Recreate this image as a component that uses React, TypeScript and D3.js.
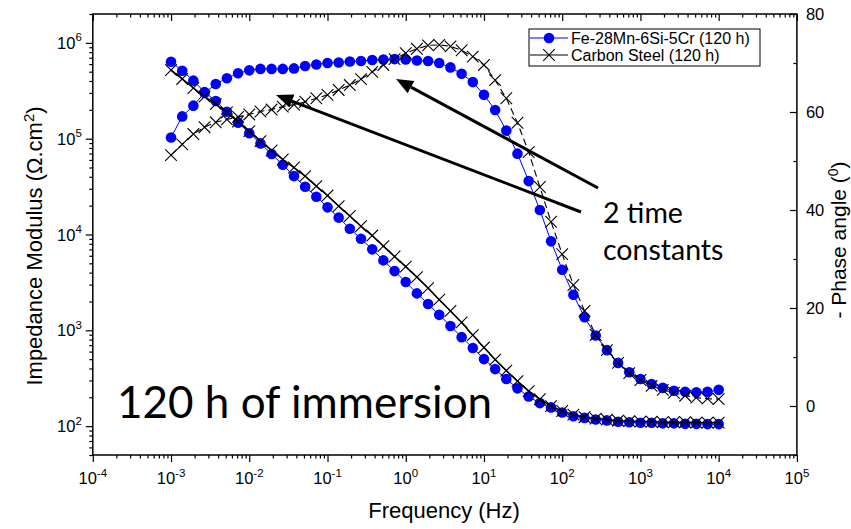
import React, { useEffect, useRef } from 'react';
import * as d3 from 'd3';

// frequency points (Hz), 7 per decade
const freqHz = [
  0.001, 0.00139, 0.00193, 0.00268, 0.00373, 0.00518, 0.0072,
  0.01, 0.0139, 0.0193, 0.0268, 0.0373, 0.0518, 0.072,
  0.1, 0.139, 0.193, 0.268, 0.373, 0.518, 0.72,
  1, 1.39, 1.93, 2.68, 3.73, 5.18, 7.2,
  10, 13.9, 19.3, 26.8, 37.3, 51.8, 72,
  100, 139, 193, 268, 373, 518, 720,
  1000, 1390, 1930, 2680, 3730, 5180, 7200,
  10000,
];

// Fe-28Mn-6Si-5Cr |Z| (ohm.cm2) and -phase (deg)
const feModulus = [
  635000, 512000, 403000, 307000, 247000, 191000, 147000,
  114000, 89300, 69100, 53500, 40700, 31500, 24800,
  19200, 15000, 11500, 9020, 7000, 5370, 4150,
  3190, 2430, 1880, 1450, 1110, 849, 653,
  501, 394, 310, 248, 204, 174, 157,
  139, 127, 122, 117.5, 114.8, 111, 110,
  108.4, 108.4, 106.9, 106.9, 105.7, 105.7, 105,
  105,
];
const fePhase = [
  54.8, 59.1, 61.3, 63.9, 65.7, 66.9, 67.9,
  68.5, 68.8, 68.8, 68.8, 68.9, 69.4, 69.7,
  70.0, 70.1, 70.3, 70.4, 70.6, 70.7, 70.8,
  70.7, 70.5, 70.4, 70.0, 69.1, 67.8, 66.1,
  63.5, 60.4, 56.2, 51.5, 45.9, 40.0, 33.6,
  27.8, 22.7, 18.1, 14.4, 11.4, 8.8, 6.9,
  5.5, 4.5, 3.7, 3.1, 2.9, 2.8, 2.9,
  3.3,
];

// Carbon steel |Z| and -phase
const csModulus = [
  520000, 420000, 338000, 275000, 230000, 188000, 151000,
  120000, 94400, 75200, 60600, 50000, 40700, 32000,
  25500, 19800, 15600, 12200, 9750, 7570, 5890,
  4620, 3590, 2760, 2090, 1590, 1210, 891,
  661, 495, 380, 295, 232, 191, 162,
  144, 132, 124, 120, 117, 114, 113,
  111.5, 111.5, 110, 110, 110, 108.9, 108.9,
  108.9,
];
const csPhase = [
  51.2, 53.4, 55.5, 56.9, 57.9, 58.5, 59.0,
  59.5, 60.1, 60.5, 61.1, 61.5, 62.1, 62.8,
  63.5, 64.5, 65.5, 66.7, 68.2, 69.6, 70.8,
  72.0, 72.9, 73.6, 73.7, 73.4, 72.6, 71.3,
  69.6, 66.5, 62.8, 57.8, 51.8, 44.7, 37.6,
  31.0, 24.7, 19.4, 14.5, 11.4, 8.8, 6.7,
  5.3, 4.1, 3.3, 2.7, 2.1, 1.7, 1.5,
  1.4,
];

const seriesNames = ['Fe-28Mn-6Si-5Cr (120 h)', 'Carbon Steel (120 h)'];
const xDecades = [-4, -3, -2, -1, 0, 1, 2, 3, 4, 5];
const yDecades = [2, 3, 4, 5, 6];
const phaseLabels = [0, 20, 40, 60, 80];

const W = 851;
const H = 529;
const box = { left: 92.8, right: 796.9, top: 14, bottom: 455 };
const BLUE = '#0000ff';
const FONT = '"Liberation Sans", Arial, sans-serif';
const NOTE_FONT = 'Lato, "Noto Sans", sans-serif';

function App() {
  const ref = useRef<SVGSVGElement>(null);

  useEffect(() => {
    const svg = d3.select(ref.current);
    svg.selectAll('*').remove();

    const x = d3.scaleLog().domain([1e-4, 1e5]).range([box.left, box.right]);
    const yMod = d3.scaleLog().domain([50, 2e6]).range([box.bottom, box.top]);
    const yPh = d3.scaleLinear().domain([-10, 80]).range([box.bottom, box.top]);

    const isMajor = (v: number) => Math.abs(Math.log10(v) - Math.round(Math.log10(v))) < 1e-6;
    const xAll = x.ticks();
    const xMaj = xAll.filter(isMajor);
    const xMin = xAll.filter((v) => !isMajor(v));
    const yAll = yMod.ticks();
    const yMaj = yAll.filter(isMajor);
    const yMin = yAll.filter((v) => !isMajor(v));
    const phAll = d3.range(-10, 81, 10);
    const phMaj = phAll.filter((v) => v % 20 === 0);
    const phMin = phAll.filter((v) => v % 20 !== 0);

    const axisG = svg.append('g');
    const clean = (g: any) => {
      g.select('.domain').remove();
      g.selectAll('line').attr('stroke', '#000').attr('stroke-width', 1.2);
    };
    // bottom ticks point out, top ticks point in
    [box.bottom, box.top].forEach((yy) => {
      axisG.append('g').attr('transform', `translate(0,${yy})`)
        .call(d3.axisBottom(x).tickValues(xMin).tickSize(3.5).tickFormat(() => '')).call(clean);
      axisG.append('g').attr('transform', `translate(0,${yy})`)
        .call(d3.axisBottom(x).tickValues(xMaj).tickSize(7).tickFormat(() => '')).call(clean);
    });
    // left ticks out
    axisG.append('g').attr('transform', `translate(${box.left},0)`)
      .call(d3.axisLeft(yMod).tickValues(yMin).tickSize(3.5).tickFormat(() => '')).call(clean);
    axisG.append('g').attr('transform', `translate(${box.left},0)`)
      .call(d3.axisLeft(yMod).tickValues(yMaj).tickSize(7).tickFormat(() => '')).call(clean);
    // right ticks in
    axisG.append('g').attr('transform', `translate(${box.right},0)`)
      .call(d3.axisLeft(yPh).tickValues(phMin).tickSize(3.5).tickFormat(() => '')).call(clean);
    axisG.append('g').attr('transform', `translate(${box.right},0)`)
      .call(d3.axisLeft(yPh).tickValues(phMaj).tickSize(7).tickFormat(() => '')).call(clean);

    svg.append('rect')
      .attr('x', box.left).attr('y', box.top)
      .attr('width', box.right - box.left).attr('height', box.bottom - box.top)
      .attr('fill', 'none').attr('stroke', '#000').attr('stroke-width', 1.5);

    // tick labels
    const labels = svg.append('g').attr('font-family', FONT).attr('font-size', 16.5).attr('fill', '#000');
    xDecades.forEach((e) => {
      const t = labels.append('text').attr('x', x(10 ** e)).attr('y', box.bottom + 29).attr('text-anchor', 'middle');
      t.append('tspan').text('10');
      t.append('tspan').attr('dy', -7.5).attr('font-size', 11.5).text(String(e));
    });
    yDecades.forEach((e) => {
      const t = labels.append('text').attr('x', box.left - 11).attr('y', yMod(10 ** e) + 6).attr('text-anchor', 'end');
      t.append('tspan').text('10');
      t.append('tspan').attr('dy', -7.5).attr('font-size', 11.5).text(String(e));
    });
    phaseLabels.forEach((v) => {
      labels.append('text').attr('x', box.right + 9).attr('y', yPh(v) + 6).text(String(v));
    });

    // axis titles
    const titles = svg.append('g').attr('font-family', FONT).attr('font-size', 22).attr('fill', '#000');
    titles.append('text').attr('x', 444).attr('y', 518).attr('text-anchor', 'middle').text('Frequency (Hz)');
    const lt = titles.append('text').attr('transform', 'translate(42,246) rotate(-90)').attr('text-anchor', 'middle');
    lt.append('tspan').text('Impedance Modulus (Ω.cm');
    lt.append('tspan').attr('dy', -8).attr('font-size', 15).text('2');
    lt.append('tspan').attr('dy', 8).text(')');
    const rt = titles.append('text').attr('transform', 'translate(845.5,240) rotate(-90)')
      .attr('text-anchor', 'middle').attr('font-size', 21);
    rt.append('tspan').text('- Phase angle (');
    rt.append('tspan').attr('dy', -8).attr('font-size', 14).text('0');
    rt.append('tspan').attr('dy', 8).text(')');

    // series
    const idx = d3.range(freqHz.length);
    const lineMod = (vals: number[]) => d3.line<number>().x((i) => x(freqHz[i])).y((i) => yMod(vals[i]))(idx);
    const linePh = (vals: number[]) => d3.line<number>().x((i) => x(freqHz[i])).y((i) => yPh(vals[i]))(idx);
    const plot = svg.append('g');

    const circles = (vals: number[], ys: any) => {
      plot.append('g').selectAll('circle').data(idx).enter().append('circle')
        .attr('cx', (i) => x(freqHz[i])).attr('cy', (i) => ys(vals[i]))
        .attr('r', 5.3).attr('fill', BLUE);
    };
    const crosses = (vals: number[], ys: any) => {
      const s = 5.8;
      plot.append('g').selectAll('path').data(idx).enter().append('path')
        .attr('d', (i) => {
          const cx = x(freqHz[i]);
          const cy = ys(vals[i]);
          return `M${cx - s},${cy - s}L${cx + s},${cy + s}M${cx - s},${cy + s}L${cx + s},${cy - s}`;
        })
        .attr('stroke', '#000').attr('stroke-width', 1.1).attr('fill', 'none');
    };

    plot.append('path').attr('d', linePh(fePhase)).attr('fill', 'none').attr('stroke', BLUE).attr('stroke-width', 1);
    circles(fePhase, yPh);
    plot.append('path').attr('d', lineMod(feModulus)).attr('fill', 'none').attr('stroke', BLUE).attr('stroke-width', 1);
    circles(feModulus, yMod);

    plot.append('path').attr('d', lineMod(csModulus)).attr('fill', 'none').attr('stroke', '#000').attr('stroke-width', 1.5);
    crosses(csModulus, yMod);
    plot.append('path').attr('d', linePh(csPhase)).attr('fill', 'none').attr('stroke', '#000').attr('stroke-width', 1.1).attr('stroke-dasharray', '7,4');
    crosses(csPhase, yPh);

    // legend
    const lg = svg.append('g').attr('font-family', FONT).attr('font-size', 16);
    lg.append('rect').attr('x', 529).attr('y', 29).attr('width', 231).attr('height', 37)
      .attr('fill', '#fff').attr('stroke', '#000').attr('stroke-width', 1);
    const rows = [38, 55];
    lg.append('line').attr('x1', 530).attr('x2', 568).attr('y1', rows[0]).attr('y2', rows[0]).attr('stroke', BLUE).attr('stroke-width', 1);
    lg.append('circle').attr('cx', 549).attr('cy', rows[0]).attr('r', 5.3).attr('fill', BLUE);
    lg.append('line').attr('x1', 530).attr('x2', 568).attr('y1', rows[1]).attr('y2', rows[1]).attr('stroke', '#000').attr('stroke-width', 1);
    lg.append('path')
      .attr('d', `M${549 - 5.8},${rows[1] - 5.8}L${549 + 5.8},${rows[1] + 5.8}M${549 - 5.8},${rows[1] + 5.8}L${549 + 5.8},${rows[1] - 5.8}`)
      .attr('stroke', '#000').attr('stroke-width', 1.1);
    seriesNames.forEach((n, k) => {
      lg.append('text').attr('x', 571).attr('y', rows[k] + 5.5).text(n);
    });

    // annotations
    const arrow = (x1: number, y1: number, x2: number, y2: number) => {
      const a = Math.atan2(y2 - y1, x2 - x1);
      const L = 17, hw = 7;
      const bx = x2 - L * Math.cos(a), by = y2 - L * Math.sin(a);
      svg.append('line').attr('x1', x1).attr('y1', y1).attr('x2', bx).attr('y2', by)
        .attr('stroke', '#000').attr('stroke-width', 3);
      svg.append('path')
        .attr('d', `M${x2},${y2}L${bx + hw * Math.sin(a)},${by - hw * Math.cos(a)}L${bx - hw * Math.sin(a)},${by + hw * Math.cos(a)}Z`)
        .attr('fill', '#000');
    };
    arrow(598, 188, 396, 79);
    arrow(581, 212, 276, 95);

    const notes = svg.append('g').attr('font-family', NOTE_FONT).attr('fill', '#000');
    notes.append('text').attr('x', 603).attr('y', 223).attr('font-size', 28.5).text('2 time');
    notes.append('text').attr('x', 603).attr('y', 260).attr('font-size', 28.5).text('constants');
    notes.append('text').attr('x', 117).attr('y', 418).attr('font-size', 44).text('120 h of immersion');
  }, []);

  return (
    <svg
      ref={ref}
      width={W}
      height={H}
      style={{ position: 'absolute', left: 0, top: 0, background: '#fff' }}
    />
  );
}

export default App;
